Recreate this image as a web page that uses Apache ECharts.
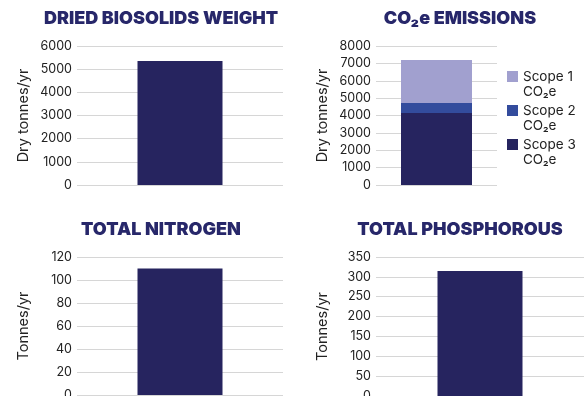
<!DOCTYPE html>
<html>
<head>
<meta charset="utf-8">
<script src="https://cdn.jsdelivr.net/npm/echarts@6/dist/echarts.min.js"></script>
<style>html,body{margin:0;padding:0;background:#fff}#c{width:587px;height:396px}</style>
</head>
<body>
<div id="c"></div>
<script>
const categories = ['Annual'];
const biosolidsWeight = [5350];
const scope1 = [2475];
const scope2 = [570];
const scope3 = [4150];
const nitrogen = [110];
const phosphorous = [315];
const titles = ['DRIED BIOSOLIDS WEIGHT', 'CO\u2082e EMISSIONS', 'TOTAL NITROGEN', 'TOTAL PHOSPHOROUS'];
const axisNames = ['Dry tonnes/yr', 'Dry tonnes/yr', 'Tonnes/yr', 'Tonnes/yr'];
const legendNames = ['Scope 1', 'Scope 2', 'Scope 3'];

const NAVY = '#26245f';
const FONT = 'Inter';
const chart = echarts.init(document.getElementById('c'), null, {renderer: 'canvas'});

const grids = [
  {left: 77, width: 206, top: 46, height: 139},
  {left: 376, width: 121, top: 46, height: 139},
  {left: 77, width: 206, top: 257, height: 138},
  {left: 376, width: 208, top: 257, height: 139}
].map(g => Object.assign({outerBoundsMode: 'none', containLabel: false}, g));
const yMax = [6000, 8000, 120, 350];
const yInt = [1000, 1000, 20, 50];

const xAxis = grids.map((g, i) => ({
  gridIndex: i, type: 'category', data: categories,
  axisLine: {show: false}, axisTick: {show: false}, axisLabel: {show: false}
}));
const yAxis = grids.map((g, i) => ({
  gridIndex: i, type: 'value', min: 0, max: yMax[i], interval: yInt[i],
  name: axisNames[i], nameLocation: 'middle', nameGap: 46, nameRotate: 90,
  nameTextStyle: {fontFamily: FONT, fontSize: 14.5, color: '#222'},
  axisLine: {show: false}, axisTick: {show: false},
  axisLabel: {margin: 5, fontFamily: FONT, fontSize: 12.5, color: '#222', formatter: v => String(v)},
  splitLine: {lineStyle: {color: '#d6d6d6', width: 1}}
}));

const titleCenters = [[161, 10], [460, 10], [161, 221], [460, 221]];
const title = titles.map((t, i) => ({
  text: t, left: titleCenters[i][0], top: titleCenters[i][1], textAlign: 'center', padding: 0,
  textStyle: {fontFamily: FONT, fontWeight: 900, fontSize: 18, color: '#27276a'}
}));

const option = {
  animation: false,
  title: title,
  grid: grids,
  xAxis: xAxis,
  yAxis: yAxis,
  legend: {
    data: legendNames, orient: 'vertical', left: 507, top: 54, padding: 0,
    itemWidth: 11, itemHeight: 11, itemGap: -11, icon: 'rect',
    formatter: n => '\n' + n + '\nCO\u2082e',
    textStyle: {fontFamily: FONT, fontSize: 13.5, color: '#222', lineHeight: 15}
  },
  series: [
    {type: 'bar', xAxisIndex: 0, yAxisIndex: 0, data: biosolidsWeight, barWidth: 85, itemStyle: {color: NAVY}},
    {name: 'Scope 3', type: 'bar', stack: 'co2', xAxisIndex: 1, yAxisIndex: 1, data: scope3, barWidth: 71, itemStyle: {color: '#26245f'}},
    {name: 'Scope 2', type: 'bar', stack: 'co2', xAxisIndex: 1, yAxisIndex: 1, data: scope2, barWidth: 71, itemStyle: {color: '#334c9d'}},
    {name: 'Scope 1', type: 'bar', stack: 'co2', xAxisIndex: 1, yAxisIndex: 1, data: scope1, barWidth: 71, itemStyle: {color: '#a1a0cf'}},
    {type: 'bar', xAxisIndex: 2, yAxisIndex: 2, data: nitrogen, barWidth: 85, itemStyle: {color: NAVY}},
    {type: 'bar', xAxisIndex: 3, yAxisIndex: 3, data: phosphorous, barWidth: 85, itemStyle: {color: NAVY}}
  ]
};
chart.setOption(option);
</script>
</body>
</html>
